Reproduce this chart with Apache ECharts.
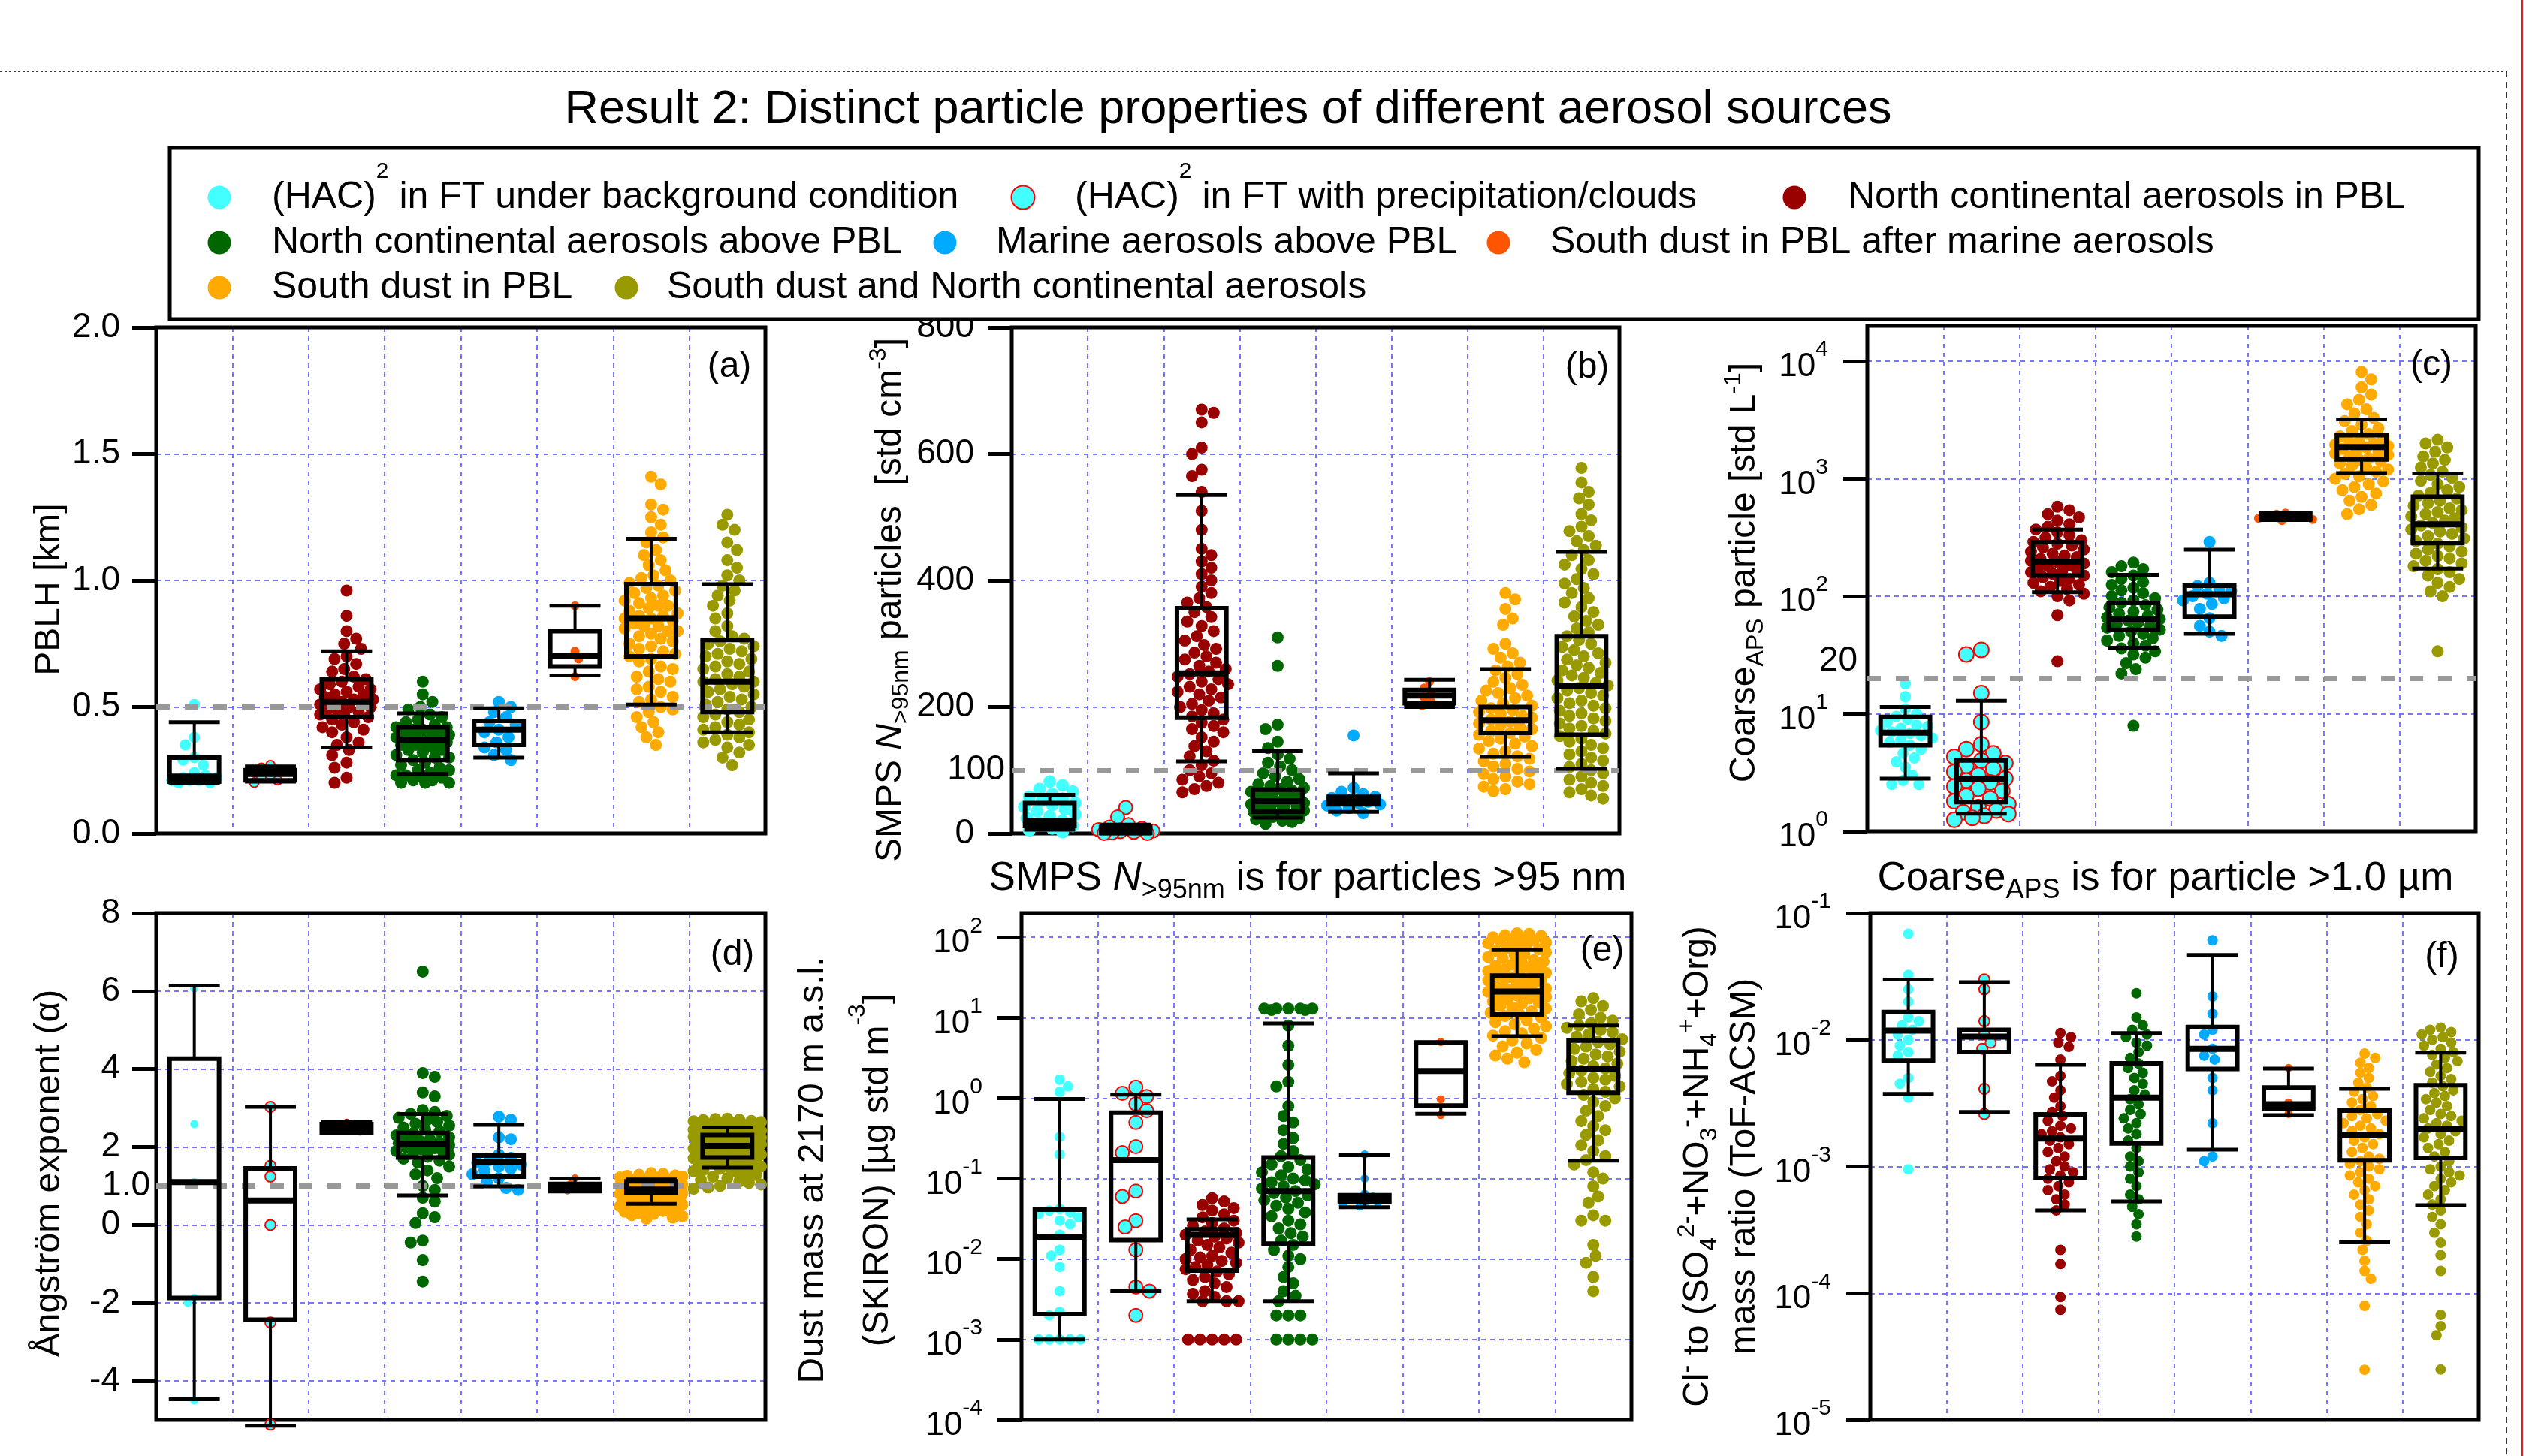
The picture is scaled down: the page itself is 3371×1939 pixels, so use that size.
<!DOCTYPE html>
<html>
<head>
<meta charset="utf-8">
<script src="https://cdn.jsdelivr.net/npm/echarts@6/dist/echarts.min.js"></script>
<style>html,body{margin:0;padding:0;background:#fff}#c{width:3371px;height:1939px}</style>
</head>
<body>
<div id="c"></div>
<script>
const FONT = "'Liberation Sans', Arial, Helvetica, sans-serif";

// ---------- categories / colours ----------
const categories = [
  '(HAC)² in FT under background condition',
  '(HAC)² in FT with precipitation/clouds',
  'North continental aerosols in PBL',
  'North continental aerosols above PBL',
  'Marine aerosols above PBL',
  'South dust in PBL after marine aerosols',
  'South dust in PBL',
  'South dust and North continental aerosols'
];
const fills = ['#44FFFF', '#44FFFF', '#990000', '#006600', '#00AAFF', '#FF5500', '#FFAA00', '#999900'];
const borders = [null, '#FF0000', null, null, null, null, null, null];

// ---------- (a) PBLH [km] ----------
const pblhPts = [
  [0.20,0.20,0.21,0.21,0.21,0.22,0.22,0.23,0.24,0.27,0.29,0.30,0.35,0.38,0.51],
  [0.20,0.21,0.22,0.23,0.24,0.25,0.26,0.27],
  [0.96,0.86,0.80,0.77,0.75,0.73,0.70,0.69,0.67,0.65,0.64,0.62,0.61,0.60,0.59,0.58,0.57,0.57,0.56,0.55,0.55,0.54,0.53,0.53,0.52,0.52,0.51,0.51,0.50,0.50,0.49,0.49,0.48,0.47,0.47,0.46,0.45,0.44,0.43,0.42,0.41,0.40,0.38,0.36,0.35,0.33,0.31,0.28,0.26,0.22,0.20],
  [0.60,0.55,0.52,0.50,0.49,0.47,0.46,0.45,0.44,0.43,0.42,0.42,0.41,0.41,0.40,0.40,0.39,0.39,0.38,0.38,0.37,0.37,0.36,0.36,0.35,0.35,0.34,0.33,0.33,0.32,0.31,0.30,0.30,0.29,0.28,0.27,0.26,0.25,0.25,0.24,0.23,0.23,0.22,0.22,0.21,0.21,0.20,0.20,0.20],
  [0.52,0.50,0.48,0.46,0.44,0.43,0.41,0.40,0.38,0.36,0.34,0.33,0.31,0.29],
  [0.90,0.72,0.69,0.62],
  [1.41,1.38,1.30,1.28,1.25,1.22,1.19,1.17,1.15,1.12,1.10,1.08,1.06,1.04,1.02,1.01,1.00,0.99,0.98,0.97,0.96,0.95,0.94,0.93,0.92,0.91,0.90,0.90,0.89,0.88,0.87,0.86,0.86,0.85,0.85,0.84,0.83,0.82,0.82,0.81,0.80,0.80,0.79,0.78,0.77,0.76,0.75,0.74,0.73,0.72,0.71,0.70,0.69,0.68,0.66,0.65,0.64,0.62,0.61,0.60,0.58,0.57,0.56,0.54,0.53,0.52,0.50,0.49,0.48,0.46,0.44,0.42,0.40,0.38,0.35],
  [1.26,1.22,1.20,1.15,1.12,1.08,1.05,1.02,1.00,0.98,0.96,0.94,0.92,0.90,0.87,0.85,0.82,0.80,0.78,0.77,0.76,0.75,0.74,0.73,0.72,0.71,0.70,0.69,0.68,0.67,0.66,0.65,0.64,0.63,0.62,0.61,0.60,0.60,0.59,0.58,0.57,0.56,0.55,0.54,0.53,0.52,0.51,0.50,0.49,0.48,0.47,0.46,0.45,0.44,0.43,0.42,0.41,0.40,0.39,0.38,0.37,0.36,0.35,0.34,0.32,0.30,0.27]
];
// [lower whisker, Q1, median, Q3, upper whisker]
const pblhBox = [
  [0.20,0.205,0.225,0.30,0.44],
  [0.205,0.21,0.235,0.25,0.265],
  [0.34,0.46,0.52,0.61,0.72],
  [0.235,0.29,0.37,0.42,0.475],
  [0.30,0.35,0.41,0.445,0.495],
  [0.625,0.66,0.70,0.80,0.90],
  [0.51,0.70,0.85,0.985,1.165],
  [0.40,0.48,0.60,0.765,0.985]
];

// ---------- (b) SMPS N>95nm ----------
const n95Pts = [
  [82,76,70,66,62,58,55,52,48,45,42,38,35,30,27,24,20,16,12,8,5,2],
  [41,26,14,10,8,6,4,3,2,1,0,0],
  [670,665,650,610,600,575,565,540,510,480,450,440,430,420,410,400,390,380,372,365,358,350,342,335,328,320,312,305,298,292,286,280,275,270,265,260,256,252,248,244,240,236,232,228,224,220,215,210,205,200,195,190,185,180,175,170,165,160,152,145,138,130,122,115,108,100,95,90,85,80,75,70,65],
  [310,265,172,165,145,135,125,118,112,106,100,95,90,86,82,78,75,72,70,68,66,64,62,60,58,56,54,52,50,48,46,44,42,40,38,36,34,32,30,28,26,24,22,20,18,15],
  [155,72,66,62,58,56,54,52,50,48,46,44,40,36,32],
  [240,230,222,215,208,202],
  [380,370,355,340,330,300,292,285,278,270,264,258,252,246,240,235,230,226,222,218,214,210,206,202,198,195,192,189,186,183,180,177,174,171,168,165,162,159,156,153,150,146,142,138,134,130,126,122,118,114,110,106,102,98,94,90,86,82,78,74,70,67],
  [578,555,540,530,520,505,495,485,478,470,462,455,448,440,432,425,418,410,402,395,388,380,372,365,358,350,343,336,330,324,318,312,306,300,295,290,285,280,275,270,266,262,258,254,250,246,242,238,234,230,226,222,218,214,210,206,202,198,194,190,186,182,178,174,170,166,162,158,154,150,145,140,135,130,125,120,115,110,105,100,95,90,85,80,75,70,65,60,55]
];
const n95Box = [
  [6,12,20,48,61],
  [0,1,5,10,14],
  [114,183,253,356,535],
  [25,34,51,69,130],
  [34,46,52,58,95],
  [200,206,218,227,243],
  [121,159,179,200,260],
  [102,156,233,312,445]
];

// ---------- (c) Coarse APS ----------
const coarsePts = [
  [18,14,11,10,9.5,9,8.5,8,7.8,7.5,7.2,7,6.8,6.5,6.2,6,5.7,5.4,5,4.6,4.2,3.9,3.5,3,2.7,2.5,2.5],
  [35,32,15,8.5,5.5,5,4.6,4.3,4,3.8,3.6,3.4,3.2,3,2.8,2.7,2.6,2.4,2.3,2.2,2,1.9,1.8,1.7,1.6,1.5,1.45,1.4,1.35,1.3,1.25],
  [578,540,500,470,440,410,390,370,350,330,315,300,290,280,270,260,250,240,230,222,215,208,200,195,190,185,180,175,170,165,160,155,150,145,140,135,130,125,120,115,110,105,100,92,69,28],
  [193,180,170,160,150,140,132,125,118,112,106,100,96,92,88,84,80,77,74,71,68,66,64,62,60,58,56,54,52,50,48,46,44,42,40,38,36,34,32,30,27,24,22,7.9],
  [290,130,122,115,110,105,100,96,92,86,78,65,56,50,46],
  [510,500,490,480,470,460,450,440],
  [8100,7000,6000,5200,4700,4300,3900,3600,3300,3100,2900,2700,2550,2400,2300,2200,2100,2050,2000,1950,1900,1850,1800,1750,1700,1650,1600,1550,1500,1450,1400,1350,1300,1250,1200,1150,1100,1050,1000,950,900,850,800,750,700,650,600,550,500],
  [2150,2000,1850,1700,1550,1450,1350,1250,1150,1080,1020,960,900,850,800,760,720,680,650,620,590,560,540,520,500,480,460,440,420,400,385,370,355,340,325,310,295,280,265,250,240,230,220,210,200,190,180,170,160,150,140,130,120,110,100,34]
];
const coarseBox = [
  [2.8,5.4,6.9,9.4,11.4],
  [1.41,1.77,2.78,4.0,12.9],
  [108,150,197,289,370],
  [36.5,51.8,63.5,87.7,152],
  [48,67,104,123,249],
  [445,450,474,505,515],
  [1116,1462,1862,2350,3200],
  [172,283,410,704,1108]
];

// ---------- (d) Angstrom exponent ----------
const angPts = [
  [6.07,2.59,1.1,-1.87,-2.0,-4.5],
  [3.03,1.52,1.24,0.0,-2.5,-5.12],
  [2.62,2.52,2.46,2.40],
  [6.5,3.9,3.8,3.4,3.3,2.95,2.9,2.85,2.8,2.75,2.7,2.65,2.6,2.55,2.5,2.45,2.4,2.35,2.3,2.25,2.2,2.18,2.15,2.12,2.1,2.08,2.05,2.02,2.0,1.97,1.95,1.92,1.9,1.85,1.8,1.75,1.7,1.65,1.6,1.5,1.4,1.3,1.2,1.0,0.9,0.7,0.6,0.3,0.2,0.05,-0.4,-0.45,-0.9,-1.45],
  [2.78,2.7,2.25,2.2,1.8,1.72,1.66,1.6,1.55,1.5,1.45,1.4,1.3,1.2,1.1,0.95,0.9],
  [1.2,1.05,0.95,0.88],
  [1.33,1.31,1.29,1.27,1.26,1.24,1.22,1.21,1.19,1.17,1.16,1.14,1.12,1.11,1.09,1.07,1.06,1.04,1.02,1.01,0.99,0.97,0.96,0.94,0.92,0.91,0.89,0.87,0.86,0.84,0.82,0.81,0.79,0.77,0.76,0.74,0.72,0.71,0.69,0.67,0.66,0.64,0.62,0.61,0.59,0.57,0.56,0.54,0.52,0.5,0.48,0.46,0.44,0.42,0.4,0.38,0.36,0.34,0.31,0.28,0.25,0.22,0.19,0.16],
  [2.73,2.72,2.7,2.69,2.67,2.66,2.64,2.62,2.61,2.59,2.57,2.56,2.54,2.52,2.51,2.49,2.47,2.46,2.44,2.42,2.41,2.39,2.37,2.36,2.34,2.32,2.31,2.29,2.27,2.26,2.24,2.22,2.21,2.19,2.17,2.16,2.14,2.12,2.11,2.09,2.07,2.06,2.04,2.02,2.01,1.99,1.97,1.96,1.94,1.92,1.91,1.89,1.87,1.86,1.84,1.82,1.81,1.79,1.77,1.76,1.74,1.72,1.71,1.69,1.67,1.66,1.64,1.62,1.61,1.59,1.56,1.53,1.5,1.47,1.44,1.41,1.38,1.35,1.32,1.28,1.24,1.2,1.16,1.12,1.08,1.04,1.0,0.96,0.93]
];
const angBox = [
  [-4.47,-1.87,1.10,4.27,6.14],
  [-5.15,-2.43,0.63,1.45,3.03],
  [2.36,2.36,2.47,2.59,2.64],
  [0.76,1.73,2.08,2.36,2.85],
  [0.99,1.24,1.61,1.78,2.57],
  [0.87,0.87,0.94,1.05,1.19],
  [0.54,0.82,0.91,1.12,1.17],
  [1.47,1.73,2.03,2.31,2.50]
];

// ---------- (e) Dust mass (SKIRON) ----------
const dustPts = [
  [1.7,1.4,1.2,0.33,0.2,0.042,0.04,0.038,0.036,0.033,0.03,0.027,0.02,0.013,0.011,0.008,0.004,0.0022,0.002,0.001,0.001,0.001,0.001,0.001],
  [1.37,1.15,1.05,0.85,0.7,0.5,0.25,0.21,0.07,0.06,0.03,0.025,0.013,0.0045,0.004,0.002],
  [0.057,0.052,0.047,0.043,0.04,0.036,0.033,0.03,0.028,0.026,0.024,0.022,0.021,0.02,0.019,0.018,0.017,0.016,0.015,0.014,0.013,0.012,0.011,0.0105,0.01,0.0095,0.009,0.0085,0.008,0.0075,0.007,0.0065,0.006,0.0055,0.005,0.0045,0.004,0.0037,0.0034,0.003,0.003,0.003,0.001,0.001,0.001,0.001,0.001],
  [13,13,13,13,13,12.5,12.5,8,4.5,2.6,1.6,1.4,0.8,0.6,0.5,0.4,0.32,0.27,0.22,0.19,0.17,0.15,0.14,0.13,0.12,0.11,0.1,0.095,0.09,0.085,0.08,0.075,0.07,0.066,0.062,0.058,0.054,0.05,0.046,0.042,0.038,0.034,0.03,0.027,0.024,0.021,0.019,0.017,0.015,0.013,0.011,0.01,0.008,0.006,0.005,0.004,0.0035,0.003,0.002,0.002,0.002,0.001,0.001,0.001,0.001],
  [0.2,0.1,0.065,0.06,0.057,0.055,0.052,0.05,0.047,0.045],
  [5.0,0.97,0.62],
  [112,110,106,104,100,98,95,92,90,86,84,80,77,74,71,68,65,62,60,57,55,52,50,48,46,44,42,41,40,38,37,36,34,33,32,30,29,28,27,26,25,24,23,22,21.5,21,20,19.5,19,18,17.5,17,16,15.5,15,14,13.5,13,12,11.5,11,10.5,10,9.3,8.8,8.3,7.8,7.3,6.8,6.4,6,5.6,5.2,4.8,4.4,4,3.7,3.4,3.1,2.8],
  [17.5,16,14,12.5,11,10,9.2,8.5,8,7.5,7,6.6,6.2,5.8,5.4,5,4.7,4.4,4.1,3.8,3.5,3.3,3.1,2.9,2.7,2.5,2.35,2.2,2.05,1.9,1.8,1.7,1.6,1.5,1.4,1.3,1.2,1.1,1.0,0.9,0.8,0.7,0.6,0.52,0.45,0.4,0.35,0.3,0.26,0.22,0.19,0.17,0.15,0.12,0.1,0.08,0.06,0.05,0.035,0.03,0.03,0.015,0.011,0.009,0.006,0.004]
];
const dustBox = [
  [0.001,0.00207,0.019,0.041,0.98],
  [0.004,0.0172,0.17,0.66,1.11],
  [0.003,0.0072,0.02,0.0234,0.031],
  [0.003,0.0155,0.07,0.183,8.5],
  [0.044,0.051,0.056,0.062,0.195],
  [0.64,0.81,2.18,4.92,4.92],
  [5.9,11,21.2,33.5,69.5],
  [0.167,1.17,2.3,5.2,8.0]
];

// ---------- (f) Cl- mass ratio ----------
const clPts = [
  [0.0686,0.0325,0.025,0.02,0.015,0.014,0.013,0.012,0.011,0.01,0.009,0.008,0.0075,0.005,0.0045,0.0035,0.00095],
  [0.03,0.025,0.014,0.011,0.0095,0.0085,0.0041,0.0026],
  [0.0113,0.0105,0.0095,0.0088,0.007,0.0052,0.0047,0.004,0.0035,0.003,0.0027,0.0025,0.0023,0.0021,0.002,0.0019,0.0018,0.0017,0.0016,0.0015,0.0014,0.0013,0.0012,0.0011,0.001,0.00095,0.0009,0.00085,0.0008,0.00075,0.0007,0.00065,0.0006,0.00055,0.0005,0.00045,0.00022,0.00017,0.0000933,0.000074],
  [0.0233,0.015,0.013,0.012,0.011,0.0105,0.0095,0.009,0.008,0.0072,0.0065,0.006,0.0055,0.005,0.0045,0.004,0.0037,0.0034,0.0031,0.0028,0.0026,0.0024,0.0022,0.002,0.0018,0.0016,0.0014,0.0012,0.0011,0.001,0.0009,0.0008,0.0007,0.0006,0.00055,0.00048,0.00042,0.00035,0.00028],
  [0.061,0.022,0.016,0.012,0.011,0.0085,0.0075,0.007,0.005,0.004,0.0022,0.0012,0.0011],
  [0.006,0.0032,0.003,0.0026],
  [0.0078,0.0072,0.0066,0.006,0.0055,0.005,0.0046,0.0042,0.0039,0.0036,0.0034,0.0032,0.003,0.0028,0.0026,0.0025,0.0024,0.0023,0.0022,0.0021,0.002,0.0019,0.0018,0.0017,0.0016,0.0015,0.0014,0.0013,0.0012,0.00115,0.0011,0.00105,0.001,0.00095,0.0009,0.00085,0.0008,0.00075,0.0007,0.00065,0.0006,0.00055,0.0005,0.00045,0.0004,0.00035,0.0003,0.00026,0.00022,0.00018,0.00015,0.00013,0.0000795,0.0000249],
  [0.0125,0.012,0.0115,0.011,0.0105,0.01,0.0095,0.009,0.0085,0.008,0.0076,0.0072,0.0068,0.0064,0.006,0.0056,0.0052,0.0049,0.0046,0.0043,0.004,0.0038,0.0036,0.0034,0.0032,0.003,0.0028,0.0026,0.0025,0.0024,0.0023,0.0022,0.0021,0.002,0.0019,0.0018,0.0017,0.0016,0.0015,0.0014,0.0013,0.0012,0.0011,0.001,0.00095,0.0009,0.00085,0.0008,0.00075,0.0007,0.00065,0.0006,0.00055,0.0005,0.00045,0.0004,0.00035,0.0003,0.00025,0.0002,0.00015,0.0000676,0.000055,0.0000466,0.000025]
];
const clBox = [
  [0.00374,0.00687,0.01183,0.01656,0.0299],
  [0.0027,0.008,0.0106,0.012,0.0285],
  [0.00045,0.00081,0.00166,0.00258,0.00635],
  [0.00053,0.00152,0.0035,0.00652,0.0113],
  [0.00136,0.0059,0.0085,0.0126,0.0468],
  [0.00255,0.00287,0.0031,0.0042,0.00594],
  [0.000252,0.00112,0.00176,0.00276,0.0041],
  [0.000495,0.00117,0.00198,0.00438,0.00794]
];

// ---------- tick values ----------
const angTicks = [-4, -2, 0, 2, 4, 6, 8];
const coarseTicks = [1, 10, 100, 1000, 10000];
const dustTicks = [1e-4, 1e-3, 1e-2, 1e-1, 1, 10, 100];
const clTicks = [1e-5, 1e-4, 1e-3, 1e-2, 1e-1];

// ---------- layout ----------
function mkRich(lh) {
  return {
    t: {fontSize: 48, fontFamily: FONT, color: '#000', lineHeight: lh, verticalAlign: 'middle'},
    it: {fontSize: 48, fontFamily: FONT, fontStyle: 'italic', color: '#000', lineHeight: lh, verticalAlign: 'middle'},
    sub: {fontSize: 32, fontFamily: FONT, color: '#000', lineHeight: 32, verticalAlign: 'top', padding: [30, 0, 0, 0]},
    sup: {fontSize: 32, fontFamily: FONT, color: '#000', lineHeight: 32, verticalAlign: 'top', padding: [0, 0, 30, 0]}
  };
}
// exponent labels: spacer token sets the line height, "10" sits low, exponent sits high
const logRich = {
  h: {fontSize: 4, lineHeight: 60, verticalAlign: 'middle'},
  b: {fontSize: 44, fontFamily: FONT, color: '#000', lineHeight: 44, verticalAlign: 'bottom'},
  s: {fontSize: 30, fontFamily: FONT, color: '#000', lineHeight: 30, verticalAlign: 'top'}
};

const panels = [
  {pts: pblhPts, box: pblhBox, grid: {left: 208, top: 436, w: 811, h: 674}, log: false, min: 0, max: 2,
   sizes: [15,12,16,16,16,12,16,16], spread: [0.36,0.36,0.36,0.36,0.36,0.36,0.36,0.36],
   name: 'PBLH [km]', nameGap: 118, namePad: [0, 24, 0, 0], rich: mkRich(56),
   ref: {v: 0.5, label: ''}, letter: '(a)', lx: 971, ly: 489},
  {pts: n95Pts, box: n95Box, grid: {left: 1347, top: 436, w: 809, h: 674}, log: false, min: 0, max: 800,
   sizes: [17,18,16,16,16,12,16,16], spread: [0.36,0.36,0.36,0.36,0.36,0.36,0.36,0.36],
   name: '{t|SMPS }{it|N}{sub|>95nm}{t| particles  [std cm}{sup|-3}{t|]}', nameGap: 130, namePad: [0, 52, 0, 0], rich: mkRich(62),
   ref: {v: 100, label: '100', dist: 9}, letter: '(b)', lx: 2113, ly: 490},
  {pts: coarsePts, box: coarseBox, grid: {left: 2486, top: 434, w: 810, h: 673}, log: true, min: 1, max: 20000,
   sizes: [15,20,16,16,16,12,16,16], spread: [0.36,0.36,0.36,0.36,0.36,0.36,0.36,0.36],
   name: '{t|Coarse}{sub|APS}{t| particle [std L}{sup|-1}{t|]}', nameGap: 132, namePad: [0, 0, 0, 16], rich: mkRich(62),
   ticks: coarseTicks, ref: {v: 20, label: '20', dist: 13, raise: true}, letter: '(c)', lx: 3237, ly: 487},
  {pts: angPts, box: angBox, grid: {left: 208, top: 1216, w: 811, h: 675}, log: false, min: -5, max: 8,
   sizes: [11,14,11,16,16,10,16,16], spread: [0.36,0.36,0.36,0.36,0.36,0.36,0.44,0.46],
   name: 'Ångström exponent (α)', nameGap: 118, namePad: [0, 18, 0, 0], rich: mkRich(56),
   ticks: angTicks, ref: {v: 1.0, label: '1.0', dist: 8}, letter: '(d)', lx: 975, ly: 1272},
  {pts: dustPts, box: dustBox, grid: {left: 1360, top: 1216, w: 812, h: 675}, log: true, min: 1e-4, max: 200,
   sizes: [14,18,16,16,11,11,16,16], spread: [0.36,0.36,0.36,0.36,0.36,0.36,0.4,0.38],
   name: '{t|Dust mass at 2170 m a.s.l.}\n{t|(SKIRON) [µg std m}{sup|-3}{t|]}', nameGap: 148, namePad: [0, 10, 0, 0], rich: mkRich(86),
   ticks: dustTicks, ref: null, letter: '(e)', lx: 2133, ly: 1267},
  {pts: clPts, box: clBox, grid: {left: 2490, top: 1216, w: 810, h: 675}, log: true, min: 1e-5, max: 0.1,
   sizes: [14,14,14,14,14,11,14,14], spread: [0.36,0.36,0.36,0.36,0.36,0.36,0.36,0.38],
   name: '{t|Cl}{sup|-}{t| to (SO}{sub|4}{sup|2-}{t|+NO}{sub|3}{sup|-}{t|+NH}{sub|4}{sup|+}{t|+Org)}\n{t|mass ratio (ToF-ACSM)}', nameGap: 136, namePad: [0, 0, 0, 0], rich: mkRich(62),
   ticks: clTicks, ref: null, letter: '(f)', lx: 3251, ly: 1275}
];

// pixel position (approximate) of a value, used only to spread the points sideways
function toPix(p, v) {
  const g = p.grid;
  if (p.log) {
    const a = Math.log10(p.min), b = Math.log10(p.max);
    return g.top + (b - Math.log10(v)) / (b - a) * g.h;
  }
  return g.top + (p.max - v) / (p.max - p.min) * g.h;
}

// deterministic beeswarm offsets (pixels) for a list of pixel y positions
function swarm(pix, diam, maxHalf, seed) {
  const n = pix.length;
  const order = pix.map((_, i) => i).sort((a, b) => (pix[a] - pix[b]) || (a - b));
  const md = diam * 0.92, step = diam * 0.2;
  const placed = [], out = new Array(n).fill(0);
  order.forEach((i, k) => {
    const y = pix[i];
    const sgn = (k + seed) % 2 ? 1 : -1;
    const cands = [0];
    for (let j = 1; j * step <= maxHalf; j++) cands.push(sgn * j * step, -sgn * j * step);
    let best = 0, bestD = -1;
    for (const x of cands) {
      let m = Infinity;
      for (const q of placed) {
        const dy = q[0] - y;
        if (dy > -md && dy < md) {
          const d = Math.hypot(dy, q[1] - x);
          if (d < m) m = d;
        }
      }
      if (m >= md) { best = x; bestD = m; break; }
      if (m > bestD) { bestD = m; best = x; }
    }
    placed.push([y, best]);
    out[i] = best;
  });
  return out;
}

function renderBox(params, api) {
  const x = api.value(0);
  const lo = api.coord([x, api.value(1)]);
  const q1 = api.coord([x, api.value(2)]);
  const md = api.coord([x, api.value(3)]);
  const q3 = api.coord([x, api.value(4)]);
  const hi = api.coord([x, api.value(5)]);
  const edge = api.coord([x + 0.325, api.value(3)]);
  const cx = md[0], hw = edge[0] - cx, cw = hw * 1.03;
  const st = (w) => ({stroke: '#000', lineWidth: w, fill: null});
  return {
    type: 'group',
    children: [
      {type: 'line', shape: {x1: cx, y1: hi[1], x2: cx, y2: q3[1]}, style: st(4)},
      {type: 'line', shape: {x1: cx, y1: q1[1], x2: cx, y2: lo[1]}, style: st(4)},
      {type: 'line', shape: {x1: cx - cw, y1: hi[1], x2: cx + cw, y2: hi[1]}, style: st(5)},
      {type: 'line', shape: {x1: cx - cw, y1: lo[1], x2: cx + cw, y2: lo[1]}, style: st(5)},
      {type: 'rect', shape: {x: cx - hw, y: q3[1], width: 2 * hw, height: q1[1] - q3[1]}, style: {stroke: '#000', lineWidth: 6, fill: 'rgba(0,0,0,0)'}},
      {type: 'line', shape: {x1: cx - hw, y1: md[1], x2: cx + hw, y2: md[1]}, style: st(8)}
    ]
  };
}

const gridLine = {show: true, lineStyle: {color: 'rgba(95,95,255,0.85)', width: 2, type: [6, 6]}};

const grids = [], xAxes = [], yAxes = [], series = [];
panels.forEach((p, pi) => {
  const g = p.grid;
  grids.push({left: g.left, top: g.top, width: g.w, height: g.h, show: true, borderColor: '#000', borderWidth: 5,
              backgroundColor: 'transparent', z: 1, containLabel: false, outerBoundsMode: 'none'});
  xAxes.push({type: 'value', gridIndex: pi, min: 0, max: 8, interval: 1,
              axisLine: {show: false}, axisTick: {show: false}, axisLabel: {show: false}, splitLine: gridLine});
  const y = {
    type: p.log ? 'log' : 'value', gridIndex: pi, min: p.min, max: p.max,
    axisLine: {show: false},
    axisTick: {show: true, inside: false, length: 32, lineStyle: {color: '#000', width: 5}},
    axisLabel: {show: true, color: '#000', fontSize: 46, fontFamily: FONT, margin: 48},
    splitLine: gridLine,
    name: p.name, nameLocation: 'middle', nameRotate: 90, nameGap: p.nameGap,
    nameTextStyle: {fontSize: 48, fontFamily: FONT, color: '#000', padding: p.namePad, rich: p.rich}
  };
  if (p.log) {
    y.logBase = 10;
    y.axisLabel.formatter = (v) => '{h| }{b|10}{s|' + Math.round(Math.log10(v)) + '}';
    y.axisLabel.rich = logRich;
    y.axisLabel.margin = 52;
  }
  if (p.ticks) {
    y.axisTick.customValues = p.ticks;
    y.axisLabel.customValues = p.ticks;
  }
  if (pi === 0) { y.interval = 0.5; y.axisLabel.formatter = (v) => v.toFixed(1); }
  if (pi === 1) { y.interval = 200; y.axisLabel.margin = 50; }
  yAxes.push(y);

  const catW = g.w / 8;
  p.pts.forEach((vals, ci) => {
    const size = p.sizes[ci];
    const pix = vals.map((v) => toPix(p, v));
    const offs = swarm(pix, size, catW * p.spread[ci], ci);
    const s = {
      type: 'scatter', name: categories[ci], xAxisIndex: pi, yAxisIndex: pi,
      data: vals.map((v, k) => [ci + 0.5 + offs[k] / catW, v]),
      symbol: 'circle', symbolSize: size,
      itemStyle: {color: fills[ci], borderColor: borders[ci] || fills[ci], borderWidth: borders[ci] ? 2 : 0, opacity: 1},
      z: 2, clip: false, silent: true
    };
    if (ci === 0 && p.ref) {
      const r = p.ref;
      s.markLine = {
        silent: true, symbol: ['none', 'none'], animation: false,
        lineStyle: {color: '#999999', width: 7, type: [18, 20]},
        label: {show: !!r.label, position: 'start', distance: r.dist || 8,
                formatter: (prm) => r.raise ? prm.name + '\n ' : prm.name,
                color: '#000', fontSize: 46, fontFamily: FONT, lineHeight: 46},
        data: [{yAxis: r.v, name: r.label}]
      };
    }
    series.push(s);
  });
  series.push({
    type: 'custom', xAxisIndex: pi, yAxisIndex: pi, renderItem: renderBox,
    data: p.box.map((b, ci) => [ci + 0.5].concat(b)),
    encode: {x: 0, y: [1, 2, 3, 4, 5]}, z: 10, clip: false, silent: true
  });
});

// ---------- legend ----------
const legendRich = {
  n: {fontSize: 50, fontFamily: FONT, color: '#000', lineHeight: 50, verticalAlign: 'middle'},
  t: {fontSize: 50, fontFamily: FONT, color: '#000', lineHeight: 98, verticalAlign: 'middle'},
  sup: {fontSize: 30, fontFamily: FONT, color: '#000', lineHeight: 30, verticalAlign: 'top'}
};
const legendPos = [
  {cx: 292, tx: 362, cy: 263}, {cx: 1361, tx: 1430, cy: 263}, {cx: 2389, tx: 2460, cy: 263},
  {cx: 292, tx: 362, cy: 323}, {cx: 1258, tx: 1326, cy: 323}, {cx: 1995, tx: 2064, cy: 323},
  {cx: 292, tx: 362, cy: 383}, {cx: 834, tx: 888, cy: 383}
];
const legends = categories.map((name, i) => {
  const lp = legendPos[i];
  const hasSup = name.indexOf('²') >= 0;
  const iconLeft = lp.cx - 15.5;
  return {
    data: [{name: name, icon: 'circle'}], left: iconLeft, top: lp.cy - (hasSup ? 49 : 25),
    orient: 'horizontal', padding: 0, itemWidth: 31, itemHeight: 31, selectedMode: false, z: 20,
    itemStyle: borders[i] ? {borderColor: borders[i], borderWidth: 2} : {borderWidth: 0},
    formatter: (n) => {
      const parts = n.split('²');
      return parts.length > 1 ? '{t|' + parts[0] + '}{sup|2}{t|' + parts[1] + '}' : '{n|' + n + '}';
    },
    textStyle: {fontSize: 50, fontFamily: FONT, color: '#000', rich: legendRich, padding: [0, 0, 0, lp.tx - (iconLeft + 36)]}
  };
});

// ---------- texts & frame decorations ----------
const subRich = {
  t: {fontSize: 53, fontFamily: FONT, color: '#000', lineHeight: 64, verticalAlign: 'middle'},
  it: {fontSize: 53, fontFamily: FONT, fontStyle: 'italic', color: '#000', lineHeight: 64, verticalAlign: 'middle'},
  sub: {fontSize: 36, fontFamily: FONT, color: '#000', lineHeight: 36, verticalAlign: 'top', padding: [30, 0, 0, 0]}
};
const graphics = [
  {type: 'line', shape: {x1: 0, y1: 95, x2: 3337, y2: 95}, style: {stroke: '#333', lineWidth: 2, lineDash: [3, 3]}, silent: true},
  {type: 'line', shape: {x1: 3337, y1: 95, x2: 3337, y2: 1939}, style: {stroke: '#333', lineWidth: 2, lineDash: [8, 6]}, silent: true},
  {type: 'line', shape: {x1: 3358, y1: 0, x2: 3358, y2: 1939}, style: {stroke: '#E02020', lineWidth: 2}, silent: true},
  {type: 'rect', z: 15, shape: {x: 226, y: 197, width: 3074, height: 228}, style: {fill: '#fff', stroke: '#000', lineWidth: 5}, silent: true},
  {type: 'text', x: 1635, y: 147, z: 16, silent: true,
   style: {text: 'Result 2: Distinct particle properties of different aerosol sources', fontSize: 63, fontFamily: FONT, fill: '#000', align: 'center', verticalAlign: 'middle'}},
  {type: 'text', x: 1741, y: 1170, z: 16, silent: true,
   style: {text: '{t|SMPS }{it|N}{sub|>95nm}{t| is for particles >95 nm}', rich: subRich, fill: '#000', align: 'center', verticalAlign: 'middle'}},
  {type: 'text', x: 2883, y: 1170, z: 16, silent: true,
   style: {text: '{t|Coarse}{sub|APS}{t| is for particle >1.0 µm}', rich: subRich, fill: '#000', align: 'center', verticalAlign: 'middle'}}
];
panels.forEach((p) => {
  graphics.push({type: 'text', x: p.lx, y: p.ly, z: 16, silent: true,
    style: {text: p.letter, fontSize: 48, fontFamily: FONT, fill: '#000', align: 'center', verticalAlign: 'middle'}});
});

const chart = echarts.init(document.getElementById('c'), null, {renderer: 'canvas', width: 3371, height: 1939});
chart.setOption({
  backgroundColor: '#ffffff',
  animation: false,
  textStyle: {fontFamily: FONT},
  grid: grids,
  xAxis: xAxes,
  yAxis: yAxes,
  legend: legends,
  series: series,
  graphic: {elements: graphics}
});
</script>
</body>
</html>
